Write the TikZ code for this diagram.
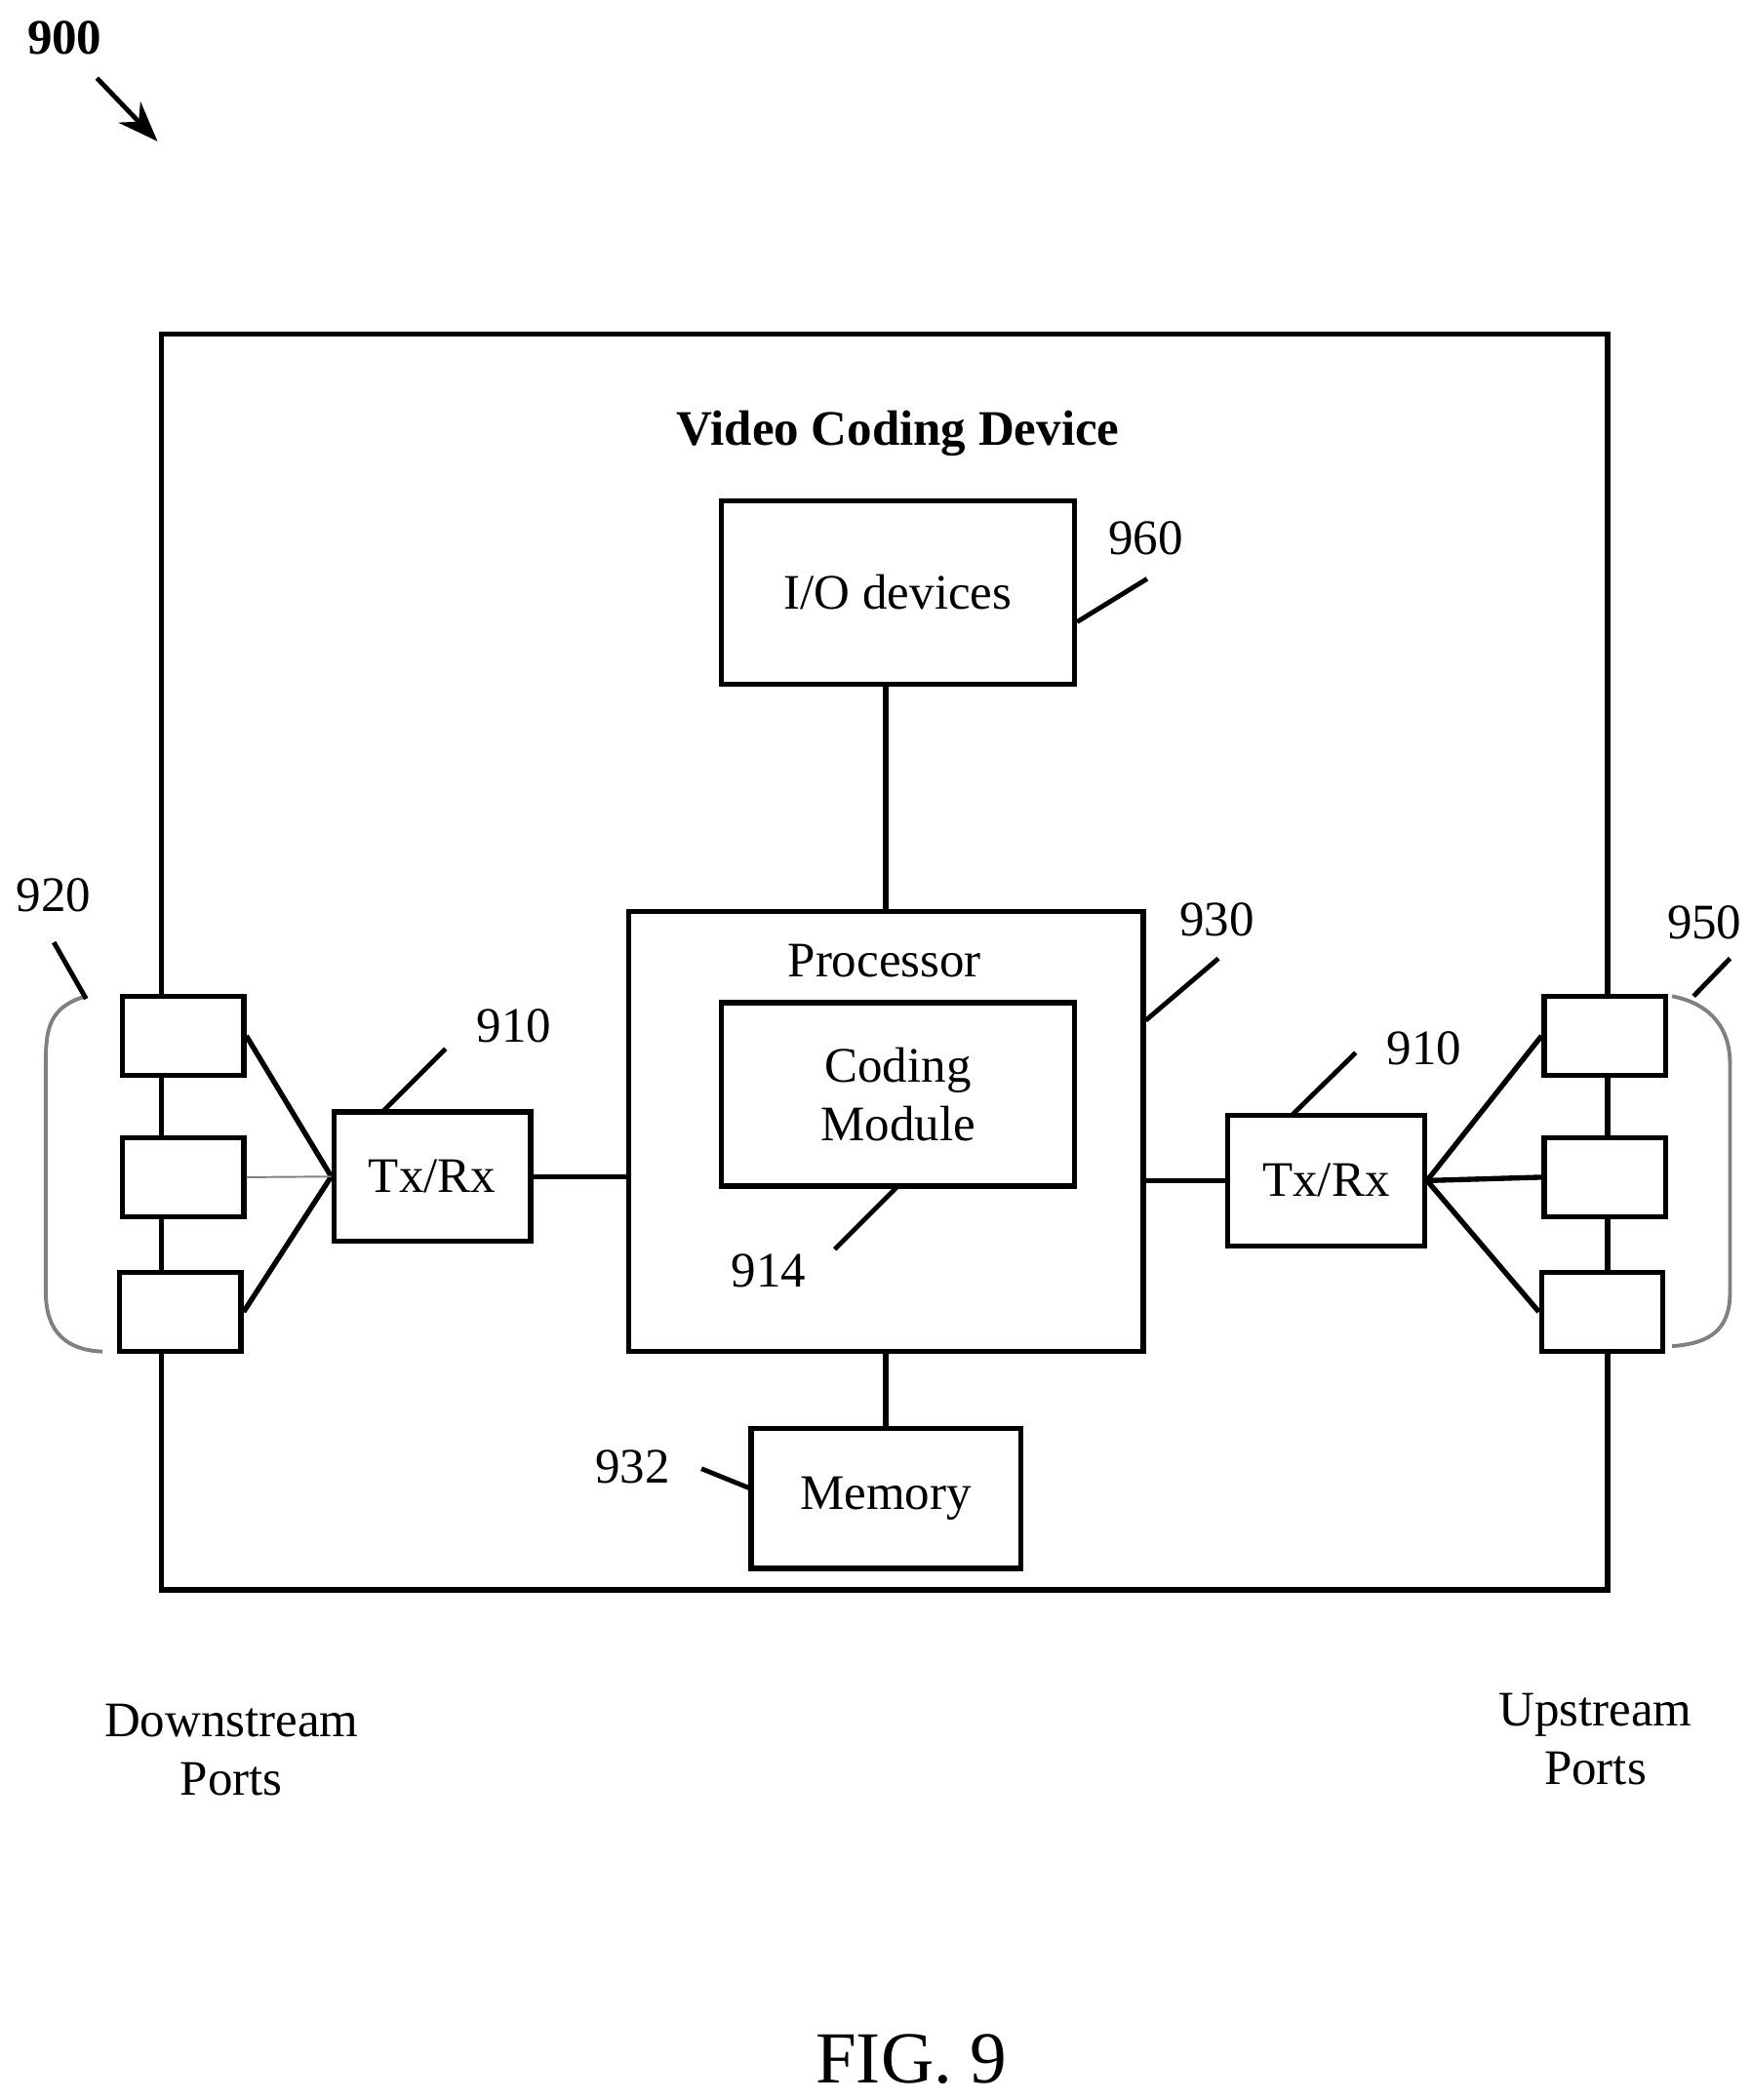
\documentclass[tikz,border=0pt]{standalone}
\usepackage{fontspec}
\setmainfont{Liberation Serif}
\usetikzlibrary{arrows.meta,positioning}
\tikzset{
  blk/.style={draw,line width=1.1pt,fill=white,inner sep=0pt,align=center},
  port/.style={draw,line width=1.1pt,fill=white,minimum width=0.9cm,minimum height=0.59cm},
  num/.style={inner sep=1pt},
  lead/.style={line width=1pt},
  link/.style={line width=1.1pt}
}
\begin{document}
\begin{tikzpicture}[x=0.01cm,y=-0.01cm,font=\fontsize{10.5}{12.5}\selectfont]
  \useasboundingbox (0,0) rectangle (1300,1560);
  % figure number
  \node[num,font=\fontsize{10.5}{12}\selectfont\bfseries] (n900) at (48,28) {900};
  \draw[line width=1pt,-{Stealth[length=3mm]}] (72,58) -- (117,105);

  % device frame
  \draw[line width=1.1pt] (120,248) rectangle (1194,1181);
  \node[font=\fontsize{10.5}{12}\selectfont\bfseries] (title) at (667,322) {Video Coding Device};

  % blocks
  \node[blk,minimum width=2.62cm,minimum height=1.36cm] (io) at (667,440) {I/O devices};
  \node[blk,minimum width=3.82cm,minimum height=3.27cm] (proc) at (658,840.5) {};
  \node (proctxt) at (657,714) {Processor};
  \node[blk,minimum width=2.62cm,minimum height=1.36cm] (cod) at (667,813) {Coding\\Module};
  \node[blk,minimum width=2.0cm,minimum height=1.04cm] (mem) at (658,1113) {Memory};
  \node[blk,minimum width=1.46cm,minimum height=0.96cm] (txl) at (321,874) {Tx/Rx};
  \node[blk,minimum width=1.46cm,minimum height=0.97cm] (txr) at (985,877) {Tx/Rx};

  \draw[link] (io.south -| proc.north) -- (proc.north);
  \draw[link] (proc.south) -- (mem.north);
  \draw[link] (txl.east) -- (txl.east -| proc.west);
  \draw[link] (proc.east |- txr.west) -- (txr.west);

  % ports
  \node[port] (dp1) at (136,769.5) {};
  \node[port] (dp2) at (136,874.5) {};
  \node[port] (dp3) at (134,974.5) {};
  \node[port] (up1) at (1192,769.5) {};
  \node[port] (up2) at (1192,874.5) {};
  \node[port] (up3) at (1190,974.5) {};
  \draw[link] (dp1.east) -- (txl.west) -- (dp3.east);
  \draw[gray] (dp2.east) -- (txl.west);
  \draw[link] (up1.west) -- (txr.east) -- (up3.west);
  \draw[link] (up2.west) -- (txr.east);

  % brackets
  \draw[gray,line width=0.8pt] (64,740) .. controls (36,748) and (34,765) .. (34,790)
    -- (34,960) .. controls (34,990) and (50,1003) .. (76,1004);
  \draw[gray,line width=0.8pt] (1242,740) .. controls (1272,746) and (1285,765) .. (1285,790)
    -- (1285,960) .. controls (1285,988) and (1270,998) .. (1242,1000);

  % reference numerals
  \node[num] (n960) at (851,400) {960};
  \draw[lead] (io.east |- 0,462) -- (852,430);
  \node[num] (n930) at (904,683) {930};
  \draw[lead] (851,758) -- (905,712);
  \node[num] (n914) at (571,944) {914};
  \draw[lead] (620,928) -- (666,882);
  \node[num] (n932) at (470,1090) {932};
  \draw[lead] (521,1091) -- (558,1106);
  \node[num] (n910a) at (382,762) {910};
  \draw[lead] (284,826) -- (331,779);
  \node[num] (n910b) at (1058,779) {910};
  \draw[lead] (960,828) -- (1007,782);
  \node[num] (n920) at (40,665) {920};
  \draw[lead] (40,700) -- (64,742);
  \node[num] (n950) at (1266,685) {950};
  \draw[lead] (1258,740) -- (1285,712);

  % port captions
  \node[align=center] (down) at (172,1300) {Downstream\\Ports};
  \node[align=center] (up) at (1185,1292) {Upstream\\Ports};
  \node[font=\fontsize{15.5}{18}\selectfont] (fig) at (677,1530) {FIG. 9};
\end{tikzpicture}
\end{document}
